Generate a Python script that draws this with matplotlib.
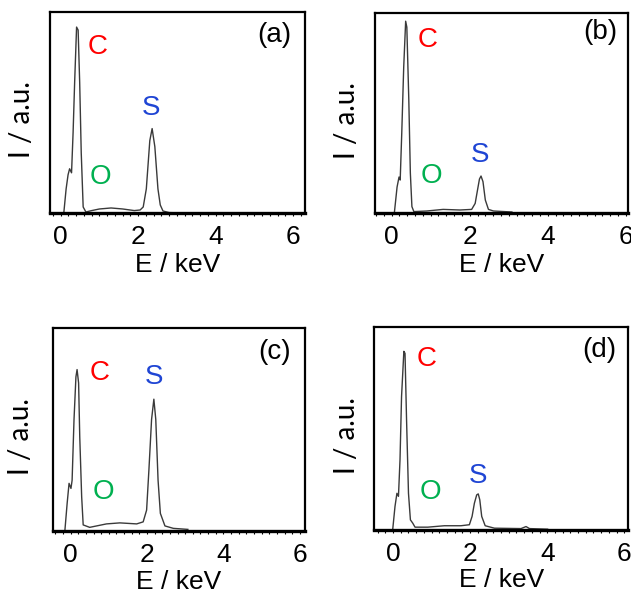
import numpy as np
import matplotlib
matplotlib.use("Agg")
import matplotlib.pyplot as plt
from matplotlib.ticker import MultipleLocator

plt.rcParams['font.family'] = ['Liberation Sans', 'DejaVu Sans']

# spectra: energy (keV), intensity (a.u., scaled 0-1)
e_a = [0.08, 0.14, 0.19, 0.23, 0.28, 0.32, 0.36, 0.41, 0.45, 0.49, 0.53, 0.58, 0.65,
       0.8, 1.0, 1.3, 1.6, 1.9, 2.05, 2.13, 2.21, 2.30, 2.36, 2.43, 2.51, 2.57,
       2.64, 2.8, 3.2]
i_a = [0.0, 0.12, 0.19, 0.22, 0.20, 0.40, 0.65, 0.925, 0.91, 0.65, 0.30, 0.03, 0.005,
       0.012, 0.02, 0.025, 0.02, 0.012, 0.015, 0.03, 0.12, 0.36, 0.42, 0.33, 0.12,
       0.04, 0.01, 0.002, 0.0]

e_b = [0.07, 0.14, 0.19, 0.22, 0.26, 0.31, 0.36, 0.39, 0.44, 0.48, 0.52, 0.57,
       0.9, 1.32, 1.75, 2.05, 2.14, 2.20, 2.25, 2.29, 2.34, 2.40, 2.48, 2.61, 3.08]
i_b = [0.0, 0.13, 0.18, 0.165, 0.40, 0.73, 0.96, 0.93, 0.57, 0.20, 0.032, 0.007,
       0.01, 0.018, 0.015, 0.018, 0.048, 0.115, 0.17, 0.185, 0.157, 0.065, 0.018,
       0.01, 0.005]

e_c = [-0.15, -0.09, -0.04, 0.01, 0.04, 0.09, 0.14, 0.17, 0.21, 0.24, 0.29, 0.33,
       0.5, 0.94, 1.29, 1.73, 1.90, 1.99, 2.05, 2.12, 2.18, 2.23, 2.29, 2.35, 2.47,
       2.69, 3.07]
i_c = [0.0, 0.136, 0.235, 0.21, 0.25, 0.55, 0.76, 0.796, 0.73, 0.465, 0.17, 0.03,
       0.018, 0.035, 0.04, 0.035, 0.045, 0.103, 0.30, 0.55, 0.65, 0.55, 0.25, 0.087,
       0.025, 0.013, 0.008]

e_d = [-0.01, 0.05, 0.10, 0.14, 0.18, 0.22, 0.28, 0.31, 0.35, 0.40, 0.45, 0.51, 0.57,
       0.9, 1.33, 1.76, 1.98, 2.05, 2.11, 2.17, 2.21, 2.25, 2.30, 2.39, 2.63, 3.32,
       3.45, 3.54, 4.01]
i_d = [0.0, 0.115, 0.18, 0.165, 0.345, 0.657, 0.88, 0.87, 0.542, 0.18, 0.049, 0.033,
       0.013, 0.013, 0.02, 0.02, 0.025, 0.066, 0.131, 0.172, 0.177, 0.148, 0.066,
       0.02, 0.008, 0.006, 0.016, 0.006, 0.003]

panels = ['(a)', '(b)', '(c)', '(d)']
xticks = [0, 2, 4, 6]

energies = [e_a, e_b, e_c, e_d]
intensities = [i_a, i_b, i_c, i_d]
xlims = [(-0.28, 6.3), (-0.43, 6.05), (-0.46, 6.13), (-0.49, 6.1)]
rects = [[0.079, 0.645, 0.404, 0.335],
         [0.594, 0.645, 0.401, 0.333],
         [0.084, 0.115, 0.399, 0.338],
         [0.593, 0.117, 0.4025, 0.338]]
# element label positions in axes fraction: C, O, S, panel tag
pos_c = [(0.188, 0.826), (0.21, 0.865), (0.184, 0.777), (0.205, 0.84)]
pos_o = [(0.20, 0.18), (0.224, 0.185), (0.20, 0.19), (0.223, 0.184)]
pos_s = [(0.395, 0.522), (0.415, 0.29), (0.40, 0.757), (0.407, 0.266)]
pos_tag = [(0.88, 0.885), (0.89, 0.907), (0.88, 0.883), (0.887, 0.887)]
ylab_x = [-0.06, -0.06, -0.075, -0.055]
xlab_pad = [3, 3, 2, 2]

fig = plt.figure(figsize=(6.31, 6.0), dpi=100)

for k in range(4):
    ax = fig.add_axes(rects[k])
    ax.plot(energies[k], intensities[k], color='#3a3a3a', lw=1.0)
    ax.set_xlim(*xlims[k])
    ax.set_ylim(0, 1)
    ax.set_yticks([])
    ax.set_xticks(xticks)
    ax.xaxis.set_minor_locator(MultipleLocator(0.2))
    ax.tick_params(axis='x', which='both', direction='out', length=2.5,
                   width=0.8, labelsize=19, pad=6)
    for side in ['left', 'right', 'top']:
        ax.spines[side].set_linewidth(1.6)
    ax.spines['bottom'].set_linewidth(2.4)
    ax.set_xlabel('E / keV', fontsize=19, labelpad=xlab_pad[k])
    ax.set_ylabel('I / a.u.', fontsize=20, family=['Lato', 'DejaVu Sans'])
    ax.yaxis.set_label_coords(ylab_x[k], 0.465)

    ax.text(*pos_c[k], 'C', color='#ff0000', fontsize=20, ha='center', va='center',
            transform=ax.transAxes)
    ax.text(*pos_o[k], 'O', color='#00b050', fontsize=20, ha='center', va='center',
            transform=ax.transAxes)
    ax.text(*pos_s[k], 'S', color='#1f45d4', fontsize=20, ha='center', va='center',
            transform=ax.transAxes)
    ax.text(*pos_tag[k], panels[k], color='black', fontsize=20, ha='center', va='center',
            transform=ax.transAxes)

fig.savefig('out.png', dpi=100)
